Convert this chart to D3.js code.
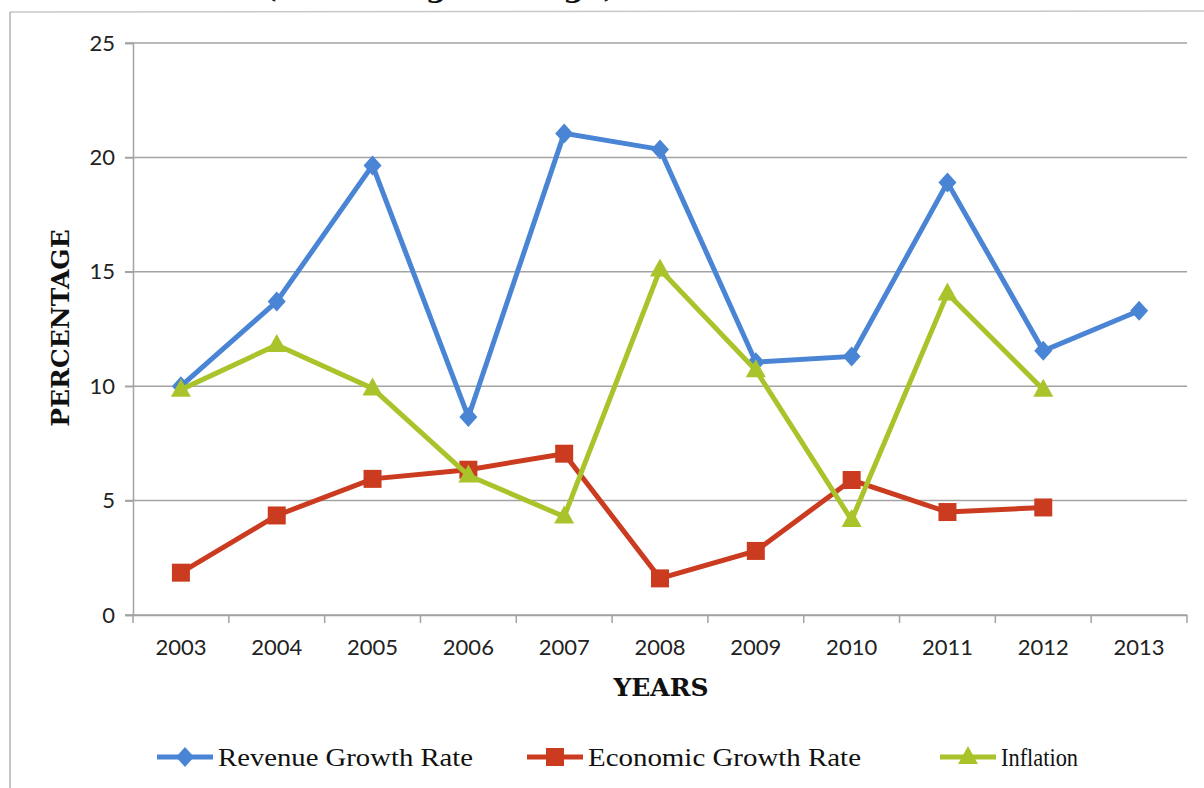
<!DOCTYPE html>
<html><head><meta charset="utf-8">
<script src="https://cdn.jsdelivr.net/npm/d3@7"></script>
<style>body{margin:0;background:#fff;overflow:hidden}</style>
</head><body><svg id="c" width="1204" height="788"></svg>
<script>
const years = ["2003","2004","2005","2006","2007","2008","2009","2010","2011","2012","2013"];
const revenueGrowth = [10.0,13.7,19.65,8.65,21.05,20.35,11.05,11.3,18.9,11.55,13.3];
const economicGrowth = [1.85,4.35,5.95,6.35,7.05,1.6,2.8,5.9,4.5,4.7,null];
const inflation = [9.85,11.8,9.9,6.1,4.3,15.1,10.7,4.15,14.05,9.85,null];
const yTicks = [0,5,10,15,20,25];
const seriesNames = ["Revenue Growth Rate","Economic Growth Rate","Inflation"];

const svg = d3.select("#c");
const L=133, R=1187, T=43, B=615;
const x = d3.scaleBand().domain(years).range([L,R]);
const y = d3.scaleLinear().domain([0,25]).range([B,T]);

// frame
svg.append("line").attr("x1",10).attr("x2",1204).attr("y1",12).attr("y2",11).attr("stroke","#c8c8c8").attr("stroke-width",1.5);
svg.append("line").attr("x1",10).attr("x2",10).attr("y1",12).attr("y2",788).attr("stroke","#b0b0b0").attr("stroke-width",1.5);

// cropped title (only its lower edge is visible in the reference)
svg.append("text").attr("x",440).attr("y",-3).attr("text-anchor","middle")
  .attr("font-family","DejaVu Serif").attr("font-weight","bold").attr("font-size",30)
  .attr("fill","#111").text("(Percentage Change)");

// gridlines
svg.append("g").selectAll("line").data(yTicks).join("line")
  .attr("x1",L-8).attr("x2",R).attr("y1",d=>y(d)).attr("y2",d=>y(d))
  .attr("stroke","#a3a3a3").attr("stroke-width",1.5);

// y axis
const ya = svg.append("g").attr("transform",`translate(${L},0)`)
  .call(d3.axisLeft(y).tickValues(yTicks).tickSize(8).tickPadding(10));
ya.select(".domain").attr("stroke","#a3a3a3").attr("stroke-width",1.5);
ya.selectAll(".tick line").attr("stroke","#a3a3a3").attr("stroke-width",1.5);
ya.selectAll("text").attr("font-family","Lato").attr("font-size",22).attr("fill","#222");

// x axis
const xa = svg.append("g").attr("transform",`translate(0,${B})`)
  .call(d3.axisBottom(x).tickSize(0).tickPadding(24));
xa.select(".domain").attr("stroke","#a3a3a3").attr("stroke-width",1.5);
xa.selectAll("text").attr("font-family","Lato").attr("font-size",22).attr("fill","#222");
const bounds = years.map(d=>x(d)).concat([R]);
svg.append("g").selectAll("line").data(bounds).join("line")
  .attr("x1",d=>d).attr("x2",d=>d).attr("y1",B).attr("y2",B+8)
  .attr("stroke","#a3a3a3").attr("stroke-width",1.5);

// axis titles
svg.append("text").attr("transform","translate(69,328) rotate(-90)").attr("text-anchor","middle")
  .attr("font-family","DejaVu Serif").attr("font-weight","bold").attr("font-size",25).attr("fill","#111")
  .text("PERCENTAGE");
svg.append("text").attr("x",661).attr("y",696).attr("text-anchor","middle")
  .attr("font-family","DejaVu Serif").attr("font-weight","bold").attr("font-size",25).attr("fill","#111")
  .text("YEARS");

const colors = ["#4a84d4","#cb3b1f","#a9c42b"];
const data = [revenueGrowth, economicGrowth, inflation];
const cx = d => x(d)+x.bandwidth()/2;

const diamond = { draw(ctx){ ctx.moveTo(0,-10); ctx.lineTo(9,0); ctx.lineTo(0,10); ctx.lineTo(-9,0); ctx.closePath(); } };
const square = { draw(ctx){ ctx.rect(-9,-9,18,18); } };
const triangle = { draw(ctx){ ctx.moveTo(0,-11); ctx.lineTo(10,7); ctx.lineTo(-10,7); ctx.closePath(); } };
const sym = [diamond, square, triangle];

data.forEach((vals,i)=>{
  const pts = years.map((yr,j)=>({yr,v:vals[j]})).filter(p=>p.v!=null);
  svg.append("path").datum(pts)
    .attr("d", d3.line().x(p=>cx(p.yr)).y(p=>y(p.v)))
    .attr("fill","none").attr("stroke",colors[i]).attr("stroke-width",5).attr("stroke-linejoin","miter");
  svg.append("g").selectAll("path").data(pts).join("path")
    .attr("transform",p=>`translate(${cx(p.yr)},${y(p.v)})`)
    .attr("d", d3.symbol().type(sym[i]))
    .attr("fill",colors[i]);
});

// legend
const legX = [157, 527, 940];
const legTextW = [255, 273, 77];
seriesNames.forEach((n,i)=>{
  const g = svg.append("g").attr("transform",`translate(${legX[i]},757)`);
  g.append("line").attr("x1",0).attr("x2",56).attr("stroke",colors[i]).attr("stroke-width",5);
  g.append("path").attr("transform","translate(28,0)").attr("d",d3.symbol().type(sym[i])).attr("fill",colors[i]);
  g.append("text").attr("x",61).attr("y",9).attr("font-family","Liberation Serif").attr("font-size",26)
    .attr("fill","#111").attr("textLength",legTextW[i]).attr("lengthAdjust","spacingAndGlyphs").text(n);
});
</script></body></html>
